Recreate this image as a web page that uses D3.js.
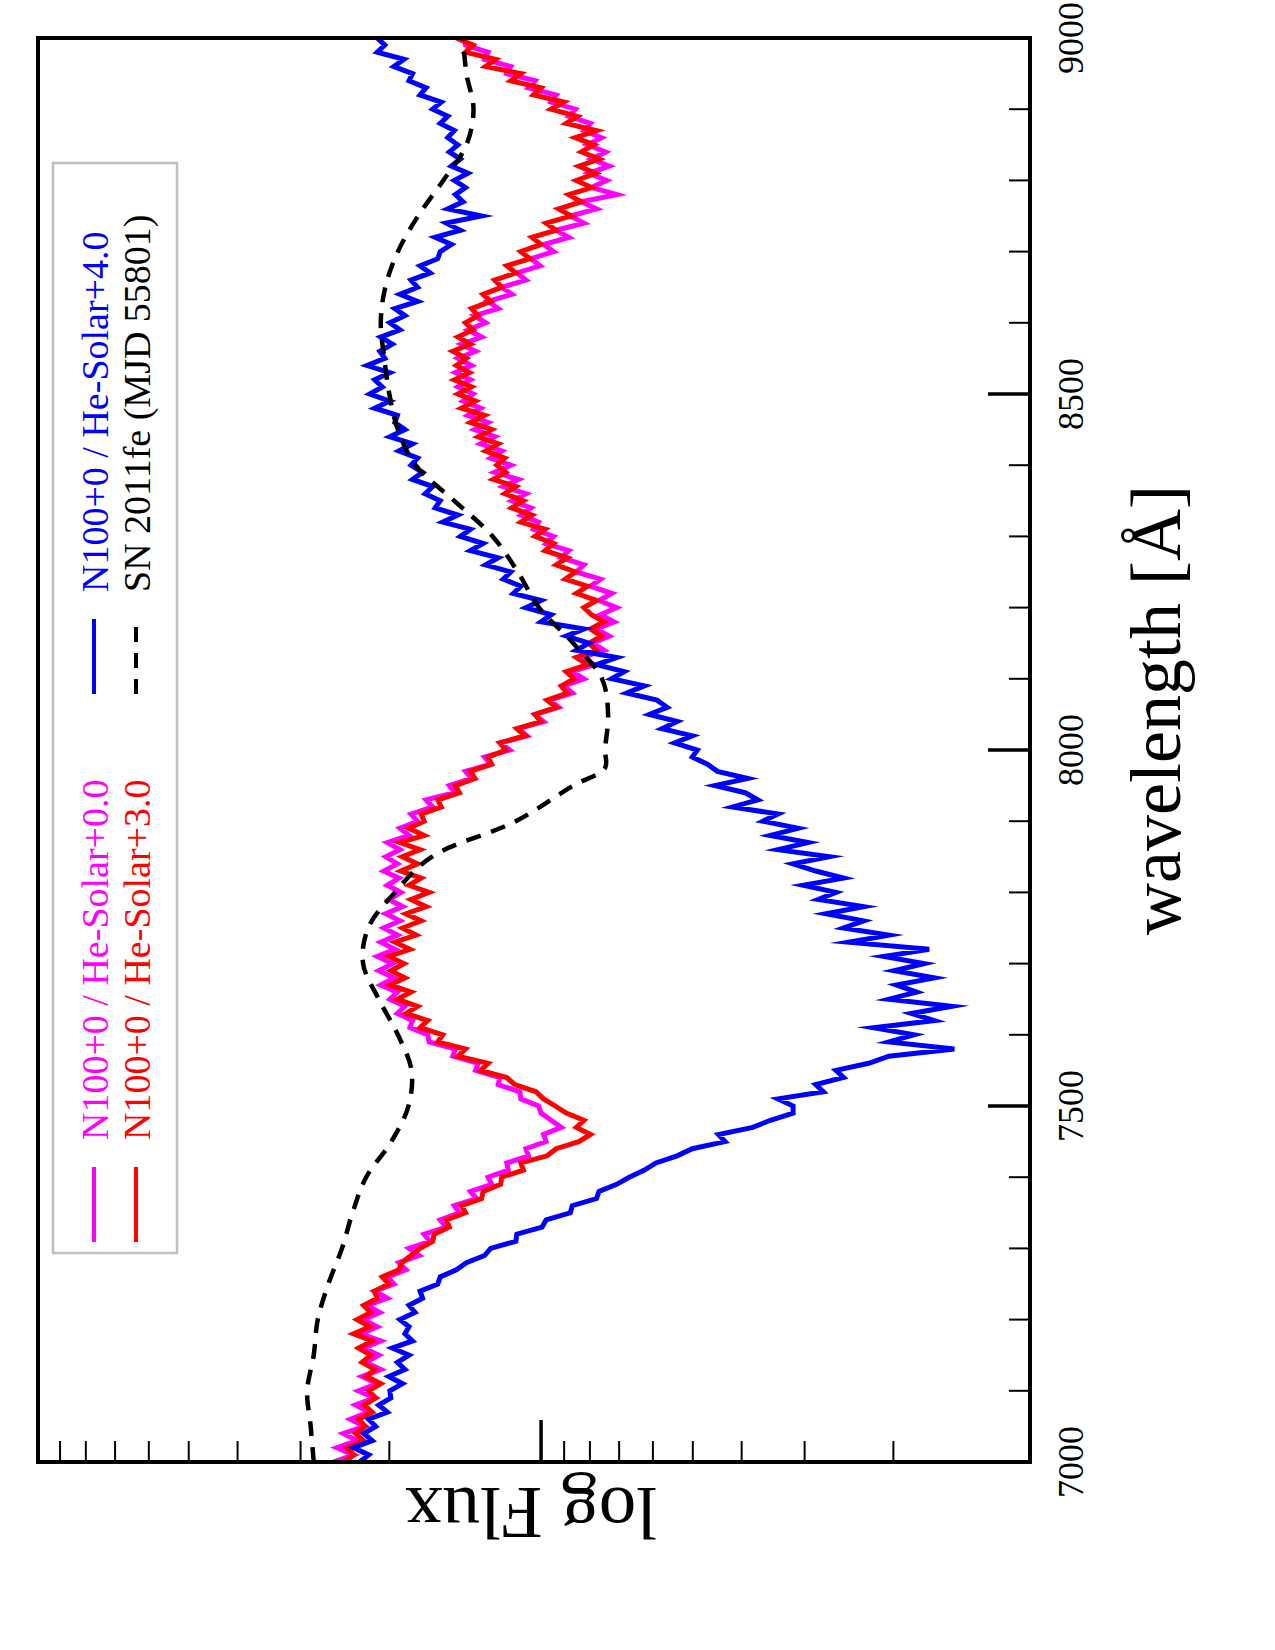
<!DOCTYPE html>
<html>
<head>
<meta charset="utf-8">
<script src="https://cdn.jsdelivr.net/npm/d3@7"></script>
<style>
  body { margin: 0; background: #fff; }
  svg { display: block; }
  text { font-family: "Liberation Serif", "Times New Roman", serif; }
</style>
</head>
<body>
<svg></svg>
<script>
// model spectra sampled every 10 A, values are log10 of flux
const wavelength = [
  7000,7010,7020,7030,7040,7050,7060,7070,7080,7090,
  7100,7110,7120,7130,7140,7150,7160,7170,7180,7190,
  7200,7210,7220,7230,7240,7250,7260,7270,7280,7290,
  7300,7310,7320,7330,7340,7350,7360,7370,7380,7390,
  7400,7410,7420,7430,7440,7450,7460,7470,7480,7490,
  7500,7510,7520,7530,7540,7550,7560,7570,7580,7590,
  7600,7610,7620,7630,7640,7650,7660,7670,7680,7690,
  7700,7710,7720,7730,7740,7750,7760,7770,7780,7790,
  7800,7810,7820,7830,7840,7850,7860,7870,7880,7890,
  7900,7910,7920,7930,7940,7950,7960,7970,7980,7990,
  8000,8010,8020,8030,8040,8050,8060,8070,8080,8090,
  8100,8110,8120,8130,8140,8150,8160,8170,8180,8190,
  8200,8210,8220,8230,8240,8250,8260,8270,8280,8290,
  8300,8310,8320,8330,8340,8350,8360,8370,8380,8390,
  8400,8410,8420,8430,8440,8450,8460,8470,8480,8490,
  8500,8510,8520,8530,8540,8550,8560,8570,8580,8590,
  8600,8610,8620,8630,8640,8650,8660,8670,8680,8690,
  8700,8710,8720,8730,8740,8750,8760,8770,8780,8790,
  8800,8810,8820,8830,8840,8850,8860,8870,8880,8890,
  8900,8910,8920,8930,8940,8950,8960,8970,8980,8990,
  9000
];

// N100+0 / He-Solar+0.0
const logFluxHe00 = [
  0.412,0.372,0.405,0.365,0.392,0.350,0.378,0.342,0.368,0.330,
  0.362,0.325,0.355,0.318,0.348,0.322,0.352,0.318,0.358,0.325,
  0.352,0.320,0.345,0.305,0.330,0.292,0.305,0.268,0.282,0.242,
  0.262,0.220,0.232,0.188,0.200,0.162,0.172,0.128,0.140,0.098,
  0.105,0.065,0.068,0.025,0.030,-0.010,-0.005,-0.040,-0.020,0.000,
  0.005,0.040,0.042,0.085,0.082,0.130,0.125,0.175,0.170,0.222,
  0.225,0.260,0.255,0.285,0.270,0.300,0.285,0.318,0.292,0.322,
  0.295,0.325,0.290,0.318,0.285,0.312,0.280,0.308,0.275,0.302,
  0.278,0.305,0.282,0.312,0.285,0.308,0.280,0.305,0.262,0.280,
  0.245,0.258,0.215,0.228,0.172,0.182,0.138,0.150,0.100,0.112,
  0.062,0.080,0.028,0.045,-0.005,0.012,-0.035,-0.018,-0.062,-0.045,
  -0.085,-0.062,-0.105,-0.082,-0.125,-0.102,-0.135,-0.110,-0.145,-0.118,
  -0.150,-0.115,-0.140,-0.098,-0.118,-0.070,-0.085,-0.040,-0.055,-0.010,
  -0.025,0.015,0.005,0.040,0.020,0.058,0.030,0.075,0.045,0.092,
  0.060,0.100,0.078,0.120,0.092,0.132,0.105,0.145,0.120,0.155,
  0.135,0.165,0.140,0.170,0.138,0.165,0.130,0.158,0.118,0.145,
  0.110,0.132,0.085,0.105,0.058,0.078,0.030,0.048,0.002,0.020,
  -0.025,-0.005,-0.055,-0.030,-0.085,-0.058,-0.110,-0.080,-0.150,-0.100,
  -0.130,-0.095,-0.135,-0.100,-0.128,-0.092,-0.120,-0.085,-0.098,-0.055,
  -0.068,-0.020,-0.030,0.025,0.012,0.068,0.060,0.112,0.105,0.150,
  0.152
];

// N100+0 / He-Solar+3.0
const logFluxHe30 = [
  0.392,0.371,0.385,0.352,0.368,0.349,0.362,0.335,0.351,0.328,
  0.342,0.318,0.346,0.330,0.355,0.338,0.362,0.335,0.372,0.340,
  0.365,0.338,0.352,0.325,0.331,0.302,0.315,0.282,0.276,0.258,
  0.240,0.215,0.212,0.182,0.188,0.150,0.158,0.118,0.115,0.080,
  0.078,0.035,0.040,-0.012,-0.030,-0.075,-0.098,-0.070,-0.085,-0.050,
  -0.028,-0.005,0.010,0.052,0.068,0.120,0.105,0.165,0.150,0.205,
  0.195,0.240,0.225,0.268,0.245,0.285,0.258,0.300,0.270,0.298,
  0.272,0.302,0.260,0.290,0.248,0.275,0.238,0.268,0.228,0.258,
  0.222,0.262,0.238,0.278,0.245,0.275,0.240,0.280,0.232,0.262,
  0.232,0.238,0.198,0.205,0.162,0.170,0.131,0.140,0.098,0.105,
  0.070,0.082,0.032,0.048,0.001,0.012,-0.030,-0.012,-0.052,-0.040,
  -0.066,-0.050,-0.092,-0.070,-0.110,-0.095,-0.120,-0.098,-0.125,-0.100,
  -0.085,-0.110,-0.070,-0.092,-0.048,-0.068,-0.030,-0.052,-0.008,-0.025,
  0.012,-0.008,0.040,0.018,0.058,0.035,0.072,0.050,0.095,0.070,
  0.088,0.072,0.110,0.085,0.125,0.098,0.140,0.112,0.158,0.130,
  0.165,0.138,0.172,0.142,0.168,0.148,0.175,0.140,0.165,0.135,
  0.150,0.125,0.138,0.100,0.115,0.078,0.092,0.050,0.068,0.022,
  0.040,0.000,0.018,-0.030,-0.010,-0.060,-0.035,-0.080,-0.055,-0.100,
  -0.070,-0.108,-0.075,-0.115,-0.080,-0.105,-0.068,-0.110,-0.050,-0.072,
  -0.020,-0.045,0.015,0.000,0.060,0.040,0.110,0.090,0.150,0.135,
  0.168
];

// N100+0 / He-Solar+4.0
const logFluxHe40 = [
  0.360,0.342,0.372,0.335,0.352,0.328,0.342,0.305,0.322,0.298,
  0.300,0.275,0.302,0.270,0.285,0.262,0.295,0.255,0.270,0.262,
  0.280,0.250,0.262,0.235,0.240,0.205,0.200,0.168,0.148,0.112,
  0.100,0.050,0.048,-0.002,-0.010,-0.058,-0.062,-0.110,-0.115,-0.150,
  -0.175,-0.205,-0.228,-0.270,-0.300,-0.365,-0.352,-0.420,-0.455,-0.500,
  -0.500,-0.470,-0.560,-0.545,-0.600,-0.585,-0.650,-0.690,-0.820,-0.690,
  -0.740,-0.660,-0.780,-0.735,-0.815,-0.690,-0.745,-0.705,-0.780,-0.700,
  -0.760,-0.680,-0.770,-0.610,-0.690,-0.600,-0.640,-0.565,-0.640,-0.550,
  -0.585,-0.520,-0.600,-0.545,-0.500,-0.572,-0.470,-0.530,-0.455,-0.510,
  -0.440,-0.470,-0.380,-0.430,-0.405,-0.345,-0.410,-0.350,-0.330,-0.300,
  -0.310,-0.265,-0.300,-0.240,-0.270,-0.215,-0.250,-0.230,-0.170,-0.205,
  -0.140,-0.165,-0.110,-0.150,-0.070,-0.095,-0.050,-0.085,0.000,-0.020,
  0.030,0.000,0.055,0.040,0.075,0.060,0.110,0.085,0.140,0.115,
  0.160,0.140,0.195,0.165,0.210,0.200,0.230,0.215,0.255,0.235,
  0.258,0.245,0.282,0.255,0.300,0.270,0.290,0.285,0.330,0.300,
  0.340,0.315,0.330,0.300,0.345,0.310,0.320,0.295,0.318,0.280,
  0.300,0.270,0.290,0.245,0.280,0.245,0.258,0.220,0.240,0.205,
  0.200,0.178,0.210,0.160,0.188,0.118,0.185,0.155,0.170,0.150,
  0.172,0.145,0.178,0.160,0.182,0.165,0.185,0.172,0.200,0.185,
  0.215,0.198,0.240,0.228,0.262,0.255,0.292,0.272,0.325,0.310,
  0.325
];

// observed SN 2011fe (MJD 55801)
const snWavelength = [7000,7050,7100,7150,7200,7250,7300,7350,7400,7450,7500,7550,7600,7650,7700,7750,7800,7850,7900,7950,7975,
  8000,8050,8100,8150,8200,8250,8300,8350,8400,8450,8500,8550,8600,8650,8700,8750,8800,8850,8900,8950,9000];
const snLogFlux = [0.451,0.457,0.464,0.451,0.443,0.422,0.395,0.374,0.347,0.297,0.263,0.257,0.284,0.322,0.353,0.343,0.290,0.217,0.050,-0.064,-0.127,
  -0.127,-0.133,-0.121,-0.064,0.004,0.046,0.096,0.172,0.249,0.284,0.301,0.311,0.318,0.309,0.284,0.244,0.194,0.148,0.134,0.148,0.155];

const seriesLabels = ["N100+0 / He-Solar+0.0", "N100+0 / He-Solar+3.0", "N100+0 / He-Solar+4.0", "SN 2011fe (MJD 55801)"];
const seriesColors = ["#ff00ff", "#ff0000", "#0000ff", "#000000"];
const wavelengthTicks = [7000, 7500, 8000, 8500, 9000];

const W = 1275, H = 1650;
const frame = { left: 38, top: 38, right: 1030, bottom: 1462 };

const svg = d3.select("svg").attr("width", W).attr("height", H);

// chart is drawn turned on its side: wavelength runs up the page, flux grows to the left
const yScale = d3.scaleLinear().domain([7000, 9000]).range([frame.bottom, frame.top]);
const xScale = d3.scaleLog()
  .domain([Math.pow(10, 0.998), Math.pow(10, -0.970)])
  .range([frame.left, frame.right]);

svg.append("clipPath").attr("id", "plotclip")
  .append("rect")
  .attr("x", frame.left).attr("y", frame.top)
  .attr("width", frame.right - frame.left).attr("height", frame.bottom - frame.top);

const line = d3.line()
  .x(d => xScale(Math.pow(10, d[1])))
  .y(d => yScale(d[0]));

const plot = svg.append("g").attr("clip-path", "url(#plotclip)");

[logFluxHe00, logFluxHe30, logFluxHe40].forEach((arr, i) => {
  plot.append("path")
    .datum(wavelength.map((w, j) => [w, arr[j]]))
    .attr("d", line)
    .attr("fill", "none")
    .attr("stroke", seriesColors[i])
    .attr("stroke-width", 5)
    .attr("stroke-linejoin", "miter")
    .attr("stroke-miterlimit", 8);
});

plot.append("path")
  .datum(snWavelength.map((w, j) => [w, snLogFlux[j]]))
  .attr("d", line.curve(d3.curveCatmullRom))
  .attr("fill", "none")
  .attr("stroke", seriesColors[3])
  .attr("stroke-width", 4.5)
  .attr("stroke-dasharray", "15,11");

// frame
svg.append("rect")
  .attr("x", frame.left).attr("y", frame.top)
  .attr("width", frame.right - frame.left).attr("height", frame.bottom - frame.top)
  .attr("fill", "none").attr("stroke", "#000").attr("stroke-width", 4);

// wavelength ticks on the right edge, pointing inwards
const wTicks = svg.append("g");
yScale.ticks(20).forEach(t => {
  const major = wavelengthTicks.includes(t);
  wTicks.append("line")
    .attr("x1", frame.right).attr("x2", frame.right - (major ? 42 : 21))
    .attr("y1", yScale(t)).attr("y2", yScale(t))
    .attr("stroke", "#000").attr("stroke-width", major ? 3.5 : 2);
});
wavelengthTicks.forEach(t => {
  svg.append("text")
    .attr("transform", `translate(1083, ${yScale(t)}) rotate(-90)`)
    .attr("text-anchor", "middle")
    .attr("font-size", 36)
    .text(t);
});

// log flux ticks on the bottom edge
const fTicks = svg.append("g");
xScale.ticks().forEach(t => {
  const major = Math.abs(Math.log10(t) - Math.round(Math.log10(t))) < 1e-9;
  fTicks.append("line")
    .attr("x1", xScale(t)).attr("x2", xScale(t))
    .attr("y1", frame.bottom).attr("y2", frame.bottom - (major ? 42 : 21))
    .attr("stroke", "#000").attr("stroke-width", major ? 3.5 : 2);
});

// axis titles
svg.append("text")
  .attr("transform", "translate(1180, 710) rotate(-90)")
  .attr("text-anchor", "middle")
  .attr("font-size", 72)
  .text("wavelength [Å]");

svg.append("text")
  .attr("transform", "translate(531, 1488) rotate(180)")
  .attr("text-anchor", "middle")
  .attr("font-size", 75)
  .text("log Flux");

// legend (2 x 2, turned with the chart)
svg.append("rect")
  .attr("x", 53).attr("y", 163).attr("width", 124).attr("height", 1090)
  .attr("fill", "#fff").attr("stroke", "#c0c0c0").attr("stroke-width", 2.5);

const legendPos = [
  { cx: 94, base: 108, y0: 1242 },
  { cx: 136, base: 150, y0: 1242 },
  { cx: 94, base: 108, y0: 694 },
  { cx: 136, base: 150, y0: 694 }
];
seriesLabels.forEach((label, i) => {
  const p = legendPos[i];
  svg.append("line")
    .attr("x1", p.cx).attr("x2", p.cx)
    .attr("y1", p.y0).attr("y2", p.y0 - 75)
    .attr("stroke", seriesColors[i]).attr("stroke-width", 4)
    .attr("stroke-dasharray", i === 3 ? "15,11" : null);
  svg.append("text")
    .attr("transform", `translate(${p.base}, ${p.y0 - 102}) rotate(-90)`)
    .attr("font-size", 38)
    .attr("fill", seriesColors[i])
    .text(label);
});
</script>
</body>
</html>
